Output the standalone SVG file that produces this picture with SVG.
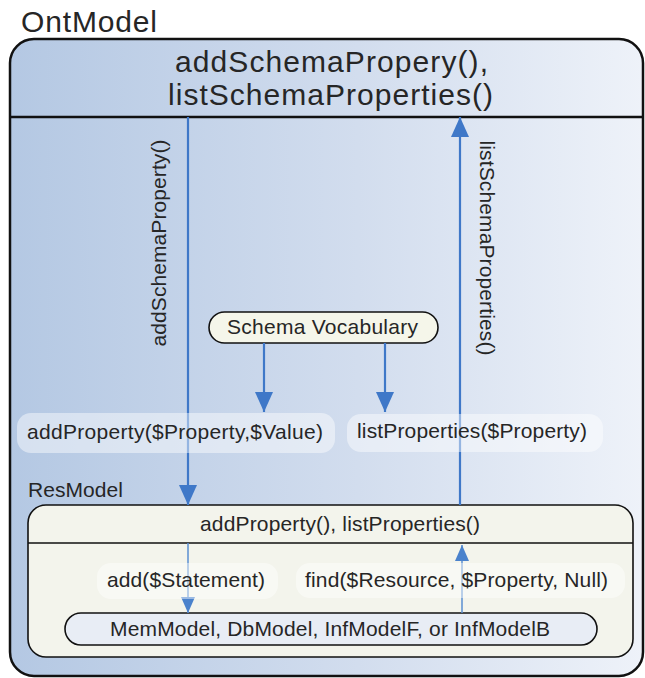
<svg xmlns="http://www.w3.org/2000/svg" width="645" height="678" viewBox="0 0 645 678">
<defs>
<linearGradient id="bg" x1="0" y1="0" x2="1" y2="0">
<stop offset="0" stop-color="#b4c8e3"/>
<stop offset="0.55" stop-color="#d2ddee"/>
<stop offset="1" stop-color="#eef2f9"/>
</linearGradient>
<marker id="ah" viewBox="0 0 20 18" refX="20" refY="9" markerWidth="20" markerHeight="18" orient="auto" markerUnits="userSpaceOnUse">
<path d="M0,0 L20,9 L0,18 z" fill="#3f78c8"/>
</marker>
<marker id="ahs" viewBox="0 0 16 14" refX="16" refY="7" markerWidth="16" markerHeight="14" orient="auto" markerUnits="userSpaceOnUse">
<path d="M0,0 L16,7 L0,14 z" fill="#4a82cc"/>
</marker>
<style>
text{font-family:"Liberation Sans",Arial,sans-serif;fill:#262626;font-size:21px}
text.big{font-size:30px}
.conn{stroke:#3f78c8;stroke-width:2.2;fill:none}
.thin{stroke:#5a8fd2;stroke-width:1.5;fill:none}
.lbl{fill:#ffffff;fill-opacity:0.45;stroke:none}
</style>
</defs>
<g id="ontmodel">
<text class="big" x="21" y="32" textLength="136">OntModel</text>
<rect x="10" y="39" width="633" height="637" rx="24" fill="url(#bg)" stroke="#111" stroke-width="2.5"/>
<line x1="10" y1="117" x2="643" y2="117" stroke="#111" stroke-width="2.5"/>
<text class="big" x="175" y="72" textLength="313">addSchemaPropery(),</text>
<text class="big" x="168" y="105" textLength="325">listSchemaProperties()</text>
</g>
<g id="schema-vocabulary">
<rect x="209" y="312" width="229" height="31" rx="15.5" fill="#f5f6ea" stroke="#111" stroke-width="1.6"/>
<text x="227" y="334" textLength="191">Schema Vocabulary</text>
</g>
<g id="resmodel">
<text x="28" y="497" textLength="95">ResModel</text>
<rect x="28" y="505" width="605" height="152" rx="18" fill="#f3f4ec" stroke="#111" stroke-width="1.6"/>
<line x1="28" y1="543" x2="633" y2="543" stroke="#111" stroke-width="1.6"/>
<text x="200" y="531" textLength="280">addProperty(), listProperties()</text>
</g>
<g id="memmodel">
<rect x="65" y="613" width="532" height="32" rx="16" fill="#e8edf5" stroke="#111" stroke-width="1.6"/>
<text x="110" y="636" textLength="440">MemModel, DbModel, InfModelF, or InfModelB</text>
</g>
<g id="connectors">
<line class="conn" x1="188" y1="117" x2="188" y2="505" marker-end="url(#ah)"/>
<line class="conn" x1="460" y1="505" x2="460" y2="117" marker-end="url(#ah)"/>
<line class="conn" x1="264" y1="343" x2="264" y2="412" marker-end="url(#ah)"/>
<line class="conn" x1="385" y1="343" x2="385" y2="412" marker-end="url(#ah)"/>
<line class="thin" x1="188" y1="543" x2="188" y2="613" marker-end="url(#ahs)"/>
<line class="thin" x1="462" y1="613" x2="462" y2="545" marker-end="url(#ahs)"/>
<text transform="translate(166,243) rotate(-90)" text-anchor="middle" textLength="207">addSchemaProperty()</text>
<text transform="translate(480,248) rotate(90)" text-anchor="middle" textLength="215">listSchemaProperties()</text>
<rect class="lbl" x="17" y="413" width="318" height="40" rx="14"/>
<text x="27" y="439" textLength="296">addProperty($Property,$Value)</text>
<rect class="lbl" x="347" y="414" width="256" height="38" rx="14"/>
<text x="357" y="438" textLength="230">listProperties($Property)</text>
<rect class="lbl" x="97" y="563" width="181" height="36" rx="14"/>
<text x="107" y="587" textLength="158">add($Statement)</text>
<rect class="lbl" x="296" y="563" width="329" height="35" rx="14"/>
<text x="305" y="587" textLength="303">find($Resource, $Property, Null)</text>
</g>
</svg>
